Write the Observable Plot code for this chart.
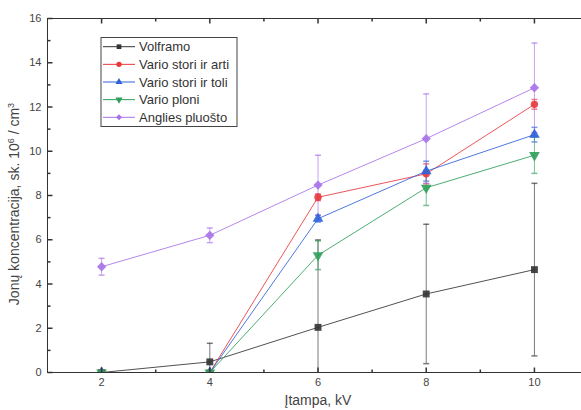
<!DOCTYPE html>
<html>
<head>
<meta charset="utf-8">
<script src="https://cdn.jsdelivr.net/npm/d3@7"></script>
<script src="https://cdn.jsdelivr.net/npm/@observablehq/plot@0.6"></script>
<style>
  html, body { margin: 0; padding: 0; background: #fff; overflow: hidden; }
  svg { display: block; }
</style>
</head>
<body>
<div id="chart"></div>
<script>
// ---- data ----
const voltage = [2, 4, 6, 8, 10];
const seriesNames = ["Volframo", "Vario stori ir arti", "Vario stori ir toli", "Vario ploni", "Anglies pluošto"];
const volframo      = [0, 0.48, 2.04, 3.55, 4.65];
const volframoErr   = [0, 0.84, 3.95, 3.15, 3.9];
const varioArti     = [0, 0, 7.92, 8.98, 12.12];
const varioArtiErr  = [0, 0, 0.15, 0.45, 0.22];
const varioToli     = [0, 0, 6.95, 9.1, 10.75];
const varioToliErr  = [0, 0, 0.15, 0.45, 0.33];
const varioPloni    = [0, 0, 5.3, 8.35, 9.82];
const varioPloniErr = [0, 0, 0.65, 0.8, 0.82];
const anglies       = [4.78, 6.2, 8.47, 10.57, 12.87];
const angliesErr    = [0.38, 0.33, 1.35, 2.02, 2.02];
const xMajorTicks = [2, 4, 6, 8, 10];
const xMinorTicks = [3, 5, 7, 9];
const yMajorTicks = [0, 2, 4, 6, 8, 10, 12, 14, 16];
const yMinorTicks = [1, 3, 5, 7, 9, 11, 13, 15];

// ---- styles ----
const colors  = ["#333333", "#e8383d", "#2f62d8", "#2e9e5b", "#a772e8"];
const symbols = ["square", "circle", "triangle", "triangle", "diamond2"];
const rotates = [0, 0, 0, 180, 0];
const radii   = [3.9, 3.7, 4.0, 4.0, 4.2];

const values = [volframo, varioArti, varioToli, varioPloni, anglies];
const errs = [volframoErr, varioArtiErr, varioToliErr, varioPloniErr, angliesErr];
const rows = [];
seriesNames.forEach((s, i) => voltage.forEach((v, j) => rows.push({
  series: s, idx: i, x: v, y: values[i][j], e: errs[i][j]
})));
const errRows = rows.filter(d => d.e > 0);

// custom symbols (pixel shapes)
const capSym   = {draw(c) { c.moveTo(-3, 0); c.lineTo(3, 0); }};
const yTickMaj = {draw(c) { c.moveTo(0, 0); c.lineTo(5, 0); }};
const yTickMin = {draw(c) { c.moveTo(0, 0); c.lineTo(3, 0); }};
const xTickMajB = {draw(c) { c.moveTo(0, 0); c.lineTo(0, -5); }};
const xTickMinB = {draw(c) { c.moveTo(0, 0); c.lineTo(0, -3); }};
const xTickMajT = {draw(c) { c.moveTo(0, 0); c.lineTo(0, 5); }};
const xTickMinT = {draw(c) { c.moveTo(0, 0); c.lineTo(0, 3); }};

const axisColor = "#333";
const marks = [
  Plot.axisX({ticks: xMajorTicks, tickSize: 0, tickPadding: 6, label: null, tickFormat: d => String(d), fill: "#444"}),
  Plot.axisY({ticks: yMajorTicks, tickSize: 0, tickPadding: 6, label: null, tickFormat: d => String(d), fill: "#444"}),
];
// error bars
seriesNames.forEach((s, i) => {
  const d = errRows.filter(r => r.idx === i);
  marks.push(Plot.ruleX(d, {x: "x", y1: r => r.y - r.e, y2: r => r.y + r.e, stroke: colors[i], strokeOpacity: 0.65, strokeWidth: 1, clip: true}));
  marks.push(Plot.dot(d, {x: "x", y: r => r.y - r.e, symbol: capSym, stroke: colors[i], strokeOpacity: 0.65, fill: "none", clip: true}));
  marks.push(Plot.dot(d, {x: "x", y: r => r.y + r.e, symbol: capSym, stroke: colors[i], strokeOpacity: 0.65, fill: "none", clip: true}));
});
// lines
seriesNames.forEach((s, i) => {
  const d = rows.filter(r => r.idx === i);
  marks.push(Plot.line(d, {x: "x", y: "y", stroke: colors[i], strokeWidth: 1, strokeOpacity: 0.85, clip: true}));
});
// markers
seriesNames.forEach((s, i) => {
  const d = rows.filter(r => r.idx === i);
  marks.push(Plot.dot(d, {x: "x", y: "y", symbol: symbols[i], r: radii[i], rotate: rotates[i], fill: colors[i], stroke: "none", fillOpacity: 0.9, clip: true}));
});
// frame lines and inward ticks
marks.push(Plot.ruleY([0], {stroke: axisColor}));
marks.push(Plot.ruleY([16], {stroke: axisColor}));
marks.push(Plot.ruleX([1], {stroke: axisColor}));
marks.push(Plot.dot(yMajorTicks, {x: 1, y: d => d, symbol: yTickMaj, stroke: axisColor, fill: "none"}));
marks.push(Plot.dot(yMinorTicks, {x: 1, y: d => d, symbol: yTickMin, stroke: axisColor, fill: "none"}));
marks.push(Plot.dot(xMajorTicks, {x: d => d, y: 0, symbol: xTickMajB, stroke: axisColor, fill: "none"}));
marks.push(Plot.dot(xMinorTicks, {x: d => d, y: 0, symbol: xTickMinB, stroke: axisColor, fill: "none"}));
marks.push(Plot.dot(xMajorTicks, {x: d => d, y: 16, symbol: xTickMajT, stroke: axisColor, fill: "none"}));
marks.push(Plot.dot(xMinorTicks, {x: d => d, y: 16, symbol: xTickMinT, stroke: axisColor, fill: "none"}));

const chart = Plot.plot({
  width: 581, height: 410,
  marginLeft: 47, marginRight: 0, marginTop: 18, marginBottom: 38,
  x: {domain: [1, 10.87]},
  y: {domain: [0, 16]},
  style: {fontFamily: "'Liberation Sans', Arial, sans-serif", fontSize: "11px", color: "#444", background: "#fff"},
  marks
});
document.getElementById("chart").appendChild(chart);

// axis titles
const svg = d3.select(chart);
svg.append("text")
  .attr("x", 318).attr("y", 405)
  .attr("text-anchor", "middle")
  .attr("font-size", 14).attr("fill", "#444")
  .text("Įtampa, kV");
const yt = svg.append("text")
  .attr("transform", "translate(19,204) rotate(-90)")
  .attr("text-anchor", "middle")
  .attr("font-size", 14).attr("fill", "#444");
yt.append("tspan").text("Jonų koncentracija, sk. 10");
yt.append("tspan").attr("dy", -5).attr("font-size", 9).text("6");
yt.append("tspan").attr("dy", 5).text(" / cm");
yt.append("tspan").attr("dy", -5).attr("font-size", 9).text("3");

// legend
const lg = svg.append("g").attr("text-anchor", "start");
lg.append("rect").attr("x", 101).attr("y", 37.5).attr("width", 136).attr("height", 89)
  .attr("fill", "#fff").attr("stroke", "#444").attr("stroke-width", 1);
const d3sym = {square: d3.symbolSquare, circle: d3.symbolCircle, triangle: d3.symbolTriangle, diamond2: d3.symbolDiamond2};
seriesNames.forEach((s, i) => {
  const y = 46.7 + i * 17.65;
  lg.append("line").attr("x1", 103).attr("x2", 135).attr("y1", y).attr("y2", y)
    .attr("stroke", colors[i]).attr("stroke-width", 1);
  lg.append("path").attr("d", d3.symbol(d3sym[symbols[i]], 22)())
    .attr("transform", `translate(119,${y}) rotate(${rotates[i]})`).attr("fill", colors[i]);
  lg.append("text").attr("x", 139).attr("y", y).attr("dy", "0.35em")
    .attr("text-anchor", "start")
    .attr("font-size", 13).attr("fill", "#333").text(s);
});
</script>
</body>
</html>
